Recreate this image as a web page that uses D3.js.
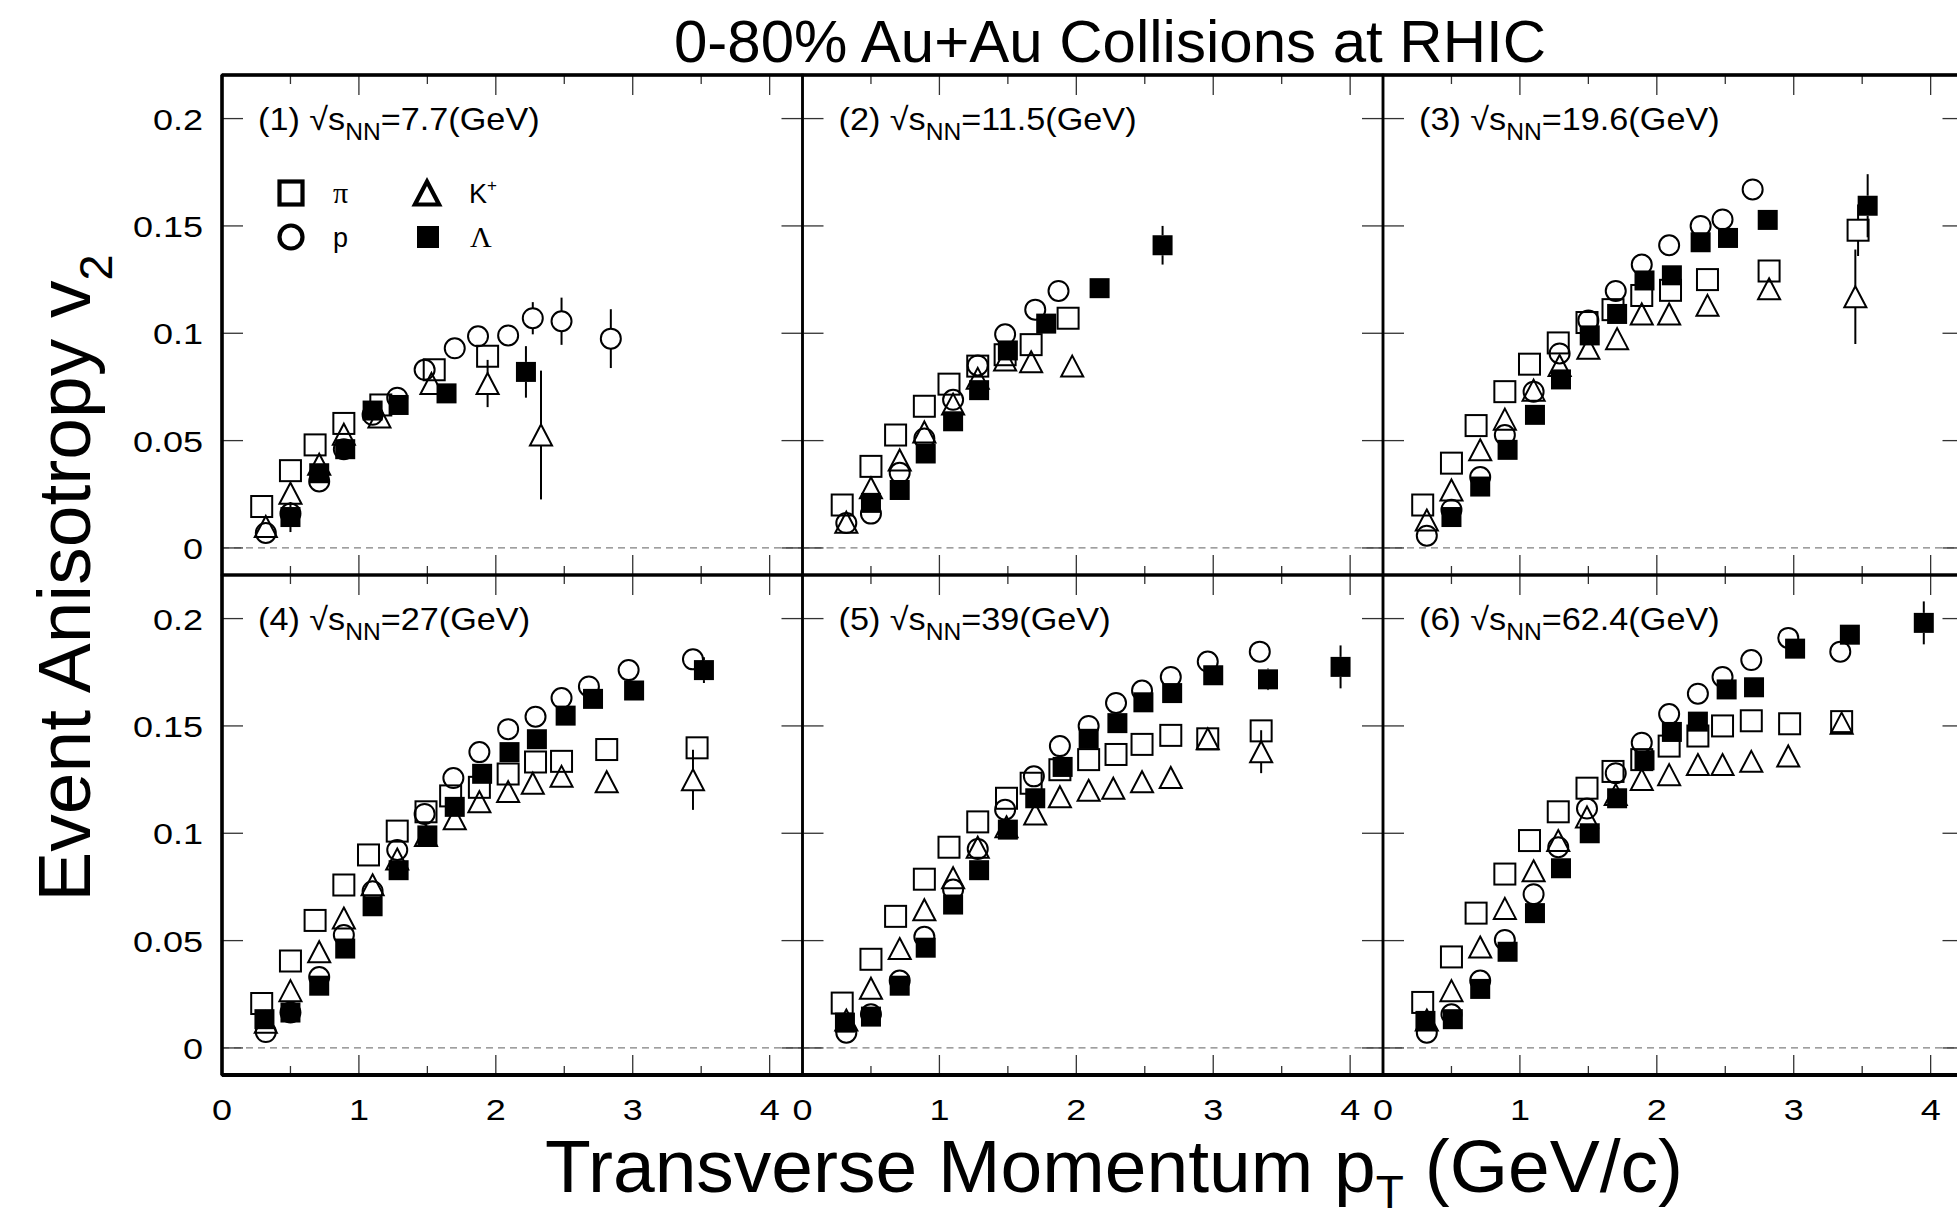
<!DOCTYPE html>
<html><head><meta charset="utf-8">
<script src="https://cdn.jsdelivr.net/npm/d3@7"></script>
<style>body{margin:0;background:#fff;} svg{display:block;}</style>
</head><body>
<script>
// ---------- data ----------
const energies = ["7.7","11.5","19.6","27","39","62.4"];
const speciesNames = ["π","p","K","Λ"];
const xTickValues = [0,1,2,3,4];
const xAllTicks = [0.5,1,1.5,2,2.5,3,3.5,4];
const yTickValues = [0,0.05,0.1,0.15,0.2];
const yTickLabels = ["0","0.05","0.1","0.15","0.2"];
const xTickLabels = ["0","1","2","3","4"];
const titleText = "0-80% Au+Au Collisions at RHIC";

// each point: [pT, v2, error]; one list per energy (panel)
const pion = [
 [[0.29,0.0193,0],[0.50,0.036,0],[0.68,0.048,0],[0.89,0.058,0],[1.16,0.0666,0],[1.55,0.083,0],[1.94,0.0893,0.005]],
 [[0.29,0.020,0],[0.50,0.038,0],[0.68,0.0526,0],[0.89,0.066,0],[1.07,0.0763,0],[1.28,0.0847,0],[1.48,0.090,0],[1.67,0.0947,0],[1.94,0.107,0]],
 [[0.29,0.020,0],[0.50,0.0395,0],[0.68,0.057,0],[0.89,0.0728,0],[1.07,0.0856,0],[1.28,0.0955,0],[1.49,0.105,0],[1.68,0.111,0],[1.89,0.1176,0],[2.10,0.120,0],[2.37,0.125,0],[2.82,0.129,0],[3.47,0.148,0.012]],
 [[0.29,0.0207,0],[0.50,0.0405,0],[0.68,0.0594,0],[0.89,0.0759,0],[1.07,0.0899,0],[1.28,0.101,0],[1.49,0.110,0],[1.67,0.1174,0],[1.88,0.1214,0],[2.09,0.1276,0],[2.29,0.1332,0],[2.48,0.1335,0],[2.81,0.139,0],[3.47,0.1398,0.004]],
 [[0.29,0.0209,0],[0.50,0.0413,0],[0.68,0.0613,0],[0.89,0.0786,0],[1.07,0.0935,0],[1.28,0.1053,0],[1.49,0.1163,0],[1.67,0.1233,0],[1.88,0.1296,0],[2.09,0.1343,0],[2.29,0.1367,0],[2.48,0.1414,0],[2.69,0.1456,0],[2.96,0.144,0],[3.35,0.1477,0.004]],
 [[0.29,0.0212,0],[0.50,0.0424,0],[0.68,0.0628,0],[0.89,0.081,0],[1.07,0.0966,0],[1.28,0.110,0],[1.49,0.121,0],[1.68,0.1288,0],[1.89,0.1343,0],[2.09,0.1406,0],[2.30,0.1453,0],[2.48,0.150,0],[2.69,0.1524,0],[2.97,0.151,0],[3.35,0.152,0]]
];
const proton = [
 [[0.32,0.007,0],[0.50,0.016,0],[0.71,0.031,0],[0.89,0.046,0],[1.10,0.062,0],[1.28,0.070,0],[1.48,0.083,0],[1.70,0.093,0],[1.87,0.0986,0],[2.09,0.099,0],[2.27,0.107,0.0075],[2.48,0.1056,0.011],[2.84,0.0975,0.0137]],
 [[0.32,0.0116,0],[0.50,0.016,0],[0.71,0.035,0],[0.89,0.051,0],[1.10,0.069,0],[1.28,0.085,0],[1.48,0.0995,0],[1.70,0.111,0],[1.87,0.1197,0]],
 [[0.32,0.0057,0],[0.50,0.0178,0],[0.71,0.033,0],[0.89,0.0526,0],[1.10,0.0728,0],[1.29,0.0906,0],[1.50,0.106,0],[1.70,0.1197,0],[1.89,0.132,0],[2.09,0.141,0],[2.32,0.150,0],[2.48,0.153,0],[2.70,0.167,0]],
 [[0.32,0.0074,0],[0.50,0.0165,0],[0.71,0.033,0],[0.89,0.0526,0],[1.10,0.073,0],[1.28,0.0922,0],[1.48,0.109,0],[1.69,0.1257,0],[1.88,0.1378,0],[2.09,0.1485,0],[2.29,0.1543,0],[2.48,0.163,0],[2.68,0.1684,0],[2.97,0.176,0],[3.44,0.181,0]],
 [[0.32,0.0071,0],[0.50,0.0157,0],[0.71,0.0314,0],[0.89,0.0518,0],[1.10,0.0738,0],[1.28,0.0927,0],[1.48,0.111,0],[1.69,0.1265,0],[1.88,0.1406,0],[2.09,0.150,0],[2.29,0.1607,0],[2.48,0.1665,0],[2.69,0.1728,0],[2.96,0.180,0],[3.34,0.1846,0]],
 [[0.32,0.0071,0],[0.50,0.0157,0],[0.71,0.0314,0],[0.89,0.0503,0],[1.10,0.0716,0],[1.28,0.0935,0],[1.49,0.1115,0],[1.70,0.128,0],[1.89,0.1422,0],[2.09,0.1555,0],[2.30,0.165,0],[2.48,0.1728,0],[2.69,0.1807,0],[2.96,0.191,0],[3.34,0.1846,0]]
];
const kaon = [
 [[0.32,0.010,0],[0.50,0.0255,0],[0.71,0.039,0],[0.89,0.053,0],[1.15,0.061,0],[1.53,0.0766,0],[1.94,0.0766,0.011],[2.33,0.0526,0.030]],
 [[0.32,0.012,0],[0.50,0.028,0],[0.71,0.041,0],[0.89,0.054,0],[1.10,0.067,0],[1.28,0.079,0],[1.48,0.0875,0],[1.67,0.0867,0],[1.97,0.0847,0]],
 [[0.32,0.013,0],[0.50,0.027,0],[0.71,0.0457,0],[0.89,0.060,0],[1.10,0.0735,0],[1.29,0.085,0],[1.50,0.093,0],[1.71,0.0975,0],[1.89,0.109,0],[2.09,0.109,0],[2.37,0.113,0],[2.82,0.1207,0.004],[3.45,0.117,0.022]],
 [[0.32,0.012,0],[0.50,0.0267,0],[0.71,0.0448,0],[0.89,0.0605,0],[1.10,0.076,0],[1.28,0.088,0],[1.49,0.099,0],[1.70,0.1068,0],[1.88,0.1147,0],[2.09,0.1194,0],[2.27,0.1233,0],[2.48,0.1265,0],[2.81,0.124,0],[3.44,0.1249,0.014]],
 [[0.32,0.013,0],[0.50,0.0278,0],[0.71,0.0463,0],[0.89,0.0644,0],[1.10,0.0793,0],[1.28,0.0935,0],[1.49,0.103,0],[1.70,0.109,0],[1.88,0.117,0],[2.09,0.120,0],[2.27,0.121,0],[2.48,0.124,0],[2.69,0.126,0],[2.96,0.144,0],[3.35,0.138,0.010]],
 [[0.32,0.013,0],[0.50,0.0267,0],[0.71,0.047,0],[0.89,0.065,0],[1.10,0.0825,0],[1.28,0.0966,0],[1.49,0.1076,0],[1.70,0.118,0],[1.89,0.125,0],[2.09,0.1273,0],[2.30,0.132,0],[2.48,0.132,0],[2.69,0.1335,0],[2.96,0.136,0],[3.35,0.1513,0]]
];
const lambda = [
 [[0.50,0.0144,0.007],[0.71,0.0348,0],[0.90,0.046,0],[1.10,0.064,0],[1.29,0.0666,0],[1.64,0.072,0],[2.22,0.082,0.012]],
 [[0.50,0.021,0],[0.71,0.027,0],[0.90,0.044,0],[1.10,0.059,0],[1.29,0.0735,0],[1.50,0.092,0],[1.78,0.1045,0],[2.17,0.121,0],[2.63,0.141,0.009]],
 [[0.50,0.0144,0],[0.71,0.0286,0],[0.91,0.0457,0],[1.11,0.062,0],[1.30,0.0785,0],[1.51,0.099,0],[1.71,0.109,0],[1.91,0.1246,0],[2.11,0.127,0],[2.32,0.1424,0],[2.52,0.1444,0],[2.81,0.1528,0.003],[3.54,0.1594,0.0147]],
 [[0.31,0.0134,0.004],[0.50,0.0165,0],[0.71,0.029,0],[0.90,0.0463,0],[1.10,0.066,0],[1.29,0.0828,0],[1.50,0.099,0],[1.70,0.1123,0],[1.90,0.1277,0],[2.10,0.1378,0],[2.30,0.1438,0],[2.51,0.1548,0],[2.71,0.1626,0],[3.01,0.1665,0],[3.52,0.176,0.006]],
 [[0.31,0.0118,0],[0.50,0.0146,0],[0.71,0.029,0],[0.90,0.0467,0],[1.10,0.0668,0],[1.29,0.0828,0],[1.50,0.1017,0],[1.70,0.1163,0],[1.90,0.1309,0],[2.09,0.144,0],[2.30,0.1513,0],[2.49,0.161,0],[2.70,0.1653,0],[3.00,0.1736,0],[3.40,0.1717,0.005],[3.93,0.1775,0.010]],
 [[0.31,0.0126,0.003],[0.51,0.0134,0],[0.71,0.0275,0],[0.91,0.0448,0],[1.11,0.0628,0],[1.30,0.0837,0],[1.51,0.100,0],[1.71,0.1163,0],[1.91,0.134,0],[2.11,0.1472,0],[2.30,0.152,0],[2.51,0.167,0],[2.71,0.168,0],[3.01,0.186,0],[3.41,0.1925,0.004],[3.95,0.198,0.010]]
];

// ---------- layout ----------
const W = 1957, H = 1220;
const colX = [222, 802.5, 1383];
const rowY = [75, 575];
const panelW = 580.5, panelH = 500;
const FONT = "'Liberation Sans', Arial, Helvetica, sans-serif";

const x = d3.scaleLinear().domain([0, 4.24]).range([0, panelW]);
const y = d3.scaleLinear().domain([-0.0126, 0.2203]).range([panelH, 0]);

const svg = d3.select("body").append("svg")
  .attr("width", W).attr("height", H)
  .style("background", "#fff");

// title
svg.append("text").attr("x", 1110).attr("y", 62)
  .attr("text-anchor", "middle").attr("font-family", FONT)
  .attr("font-size", 60).text(titleText);

// markers
const MS = 21;
const SW = 2;
function drawMarker(g, kind, cx, cy, s, sw) {
  const h = s / 2;
  if (kind === "square") {
    g.append("rect").attr("x", cx - h).attr("y", cy - h).attr("width", s).attr("height", s)
      .attr("fill", "none").attr("stroke", "#000").attr("stroke-width", sw);
  } else if (kind === "fsquare") {
    g.append("rect").attr("x", cx - h).attr("y", cy - h).attr("width", s).attr("height", s)
      .attr("fill", "#000");
  } else if (kind === "circle") {
    g.append("circle").attr("cx", cx).attr("cy", cy).attr("r", h)
      .attr("fill", "none").attr("stroke", "#000").attr("stroke-width", sw);
  } else if (kind === "triangle") {
    const w = s * 1.05;
    g.append("path")
      .attr("d", `M${cx},${cy - h}L${cx + w / 2},${cy + h}L${cx - w / 2},${cy + h}Z`)
      .attr("fill", "none").attr("stroke", "#000").attr("stroke-width", sw)
      .attr("stroke-linejoin", "miter");
  }
}

const seriesDefs = [
  {data: pion, kind: "square", size: MS},
  {data: kaon, kind: "triangle", size: MS},
  {data: proton, kind: "circle", size: 20},
  {data: lambda, kind: "fsquare", size: 20}
];

energies.forEach((en, i) => {
  const col = i % 3, row = Math.floor(i / 3);
  const g = svg.append("g").attr("transform", `translate(${colX[col]},${rowY[row]})`);

  // zero dashed line
  g.append("line").attr("x1", 0).attr("x2", panelW)
    .attr("y1", y(0)).attr("y2", y(0))
    .attr("stroke", "#808080").attr("stroke-width", 1.3)
    .attr("stroke-dasharray", "7,5");

  // x ticks top & bottom
  xAllTicks.forEach(t => {
    const len = Number.isInteger(t) ? 20 : 9;
    g.append("line").attr("x1", x(t)).attr("x2", x(t)).attr("y1", panelH).attr("y2", panelH - len)
      .attr("stroke", "#333").attr("stroke-width", 1.3);
    g.append("line").attr("x1", x(t)).attr("x2", x(t)).attr("y1", 0).attr("y2", len)
      .attr("stroke", "#333").attr("stroke-width", 1.3);
  });
  // y ticks left & right
  yTickValues.forEach(t => {
    g.append("line").attr("x1", 0).attr("x2", 21).attr("y1", y(t)).attr("y2", y(t))
      .attr("stroke", "#333").attr("stroke-width", 1.3);
    g.append("line").attr("x1", panelW).attr("x2", panelW - 21).attr("y1", y(t)).attr("y2", y(t))
      .attr("stroke", "#333").attr("stroke-width", 1.3);
  });

  // data
  seriesDefs.forEach(sd => {
    const pts = sd.data[i];
    const h = sd.size / 2;
    pts.forEach(p => {
      const cx = x(p[0]), cy = y(p[1]);
      if (p[2] > 0) {
        const yt = y(p[1] + p[2]), yb = y(p[1] - p[2]);
        if (yt < cy - h) g.append("line").attr("x1", cx).attr("x2", cx).attr("y1", yt).attr("y2", cy - h)
          .attr("stroke", "#000").attr("stroke-width", 2);
        if (yb > cy + h) g.append("line").attr("x1", cx).attr("x2", cx).attr("y1", cy + h).attr("y2", yb)
          .attr("stroke", "#000").attr("stroke-width", 2);
      }
      drawMarker(g, sd.kind, cx, cy, sd.size, SW);
    });
  });

  // panel label
  const lab = g.append("text").attr("font-family", FONT).attr("font-size", 32)
    .attr("transform", `translate(36,55) scale(1.07,1)`);
  lab.append("tspan").text(`(${i + 1}) √s`);
  lab.append("tspan").attr("font-size", 23).attr("dy", 10).text("NN");
  lab.append("tspan").attr("dy", -10).text(`=${en}(GeV)`);

  // frame
  g.append("rect").attr("x", 0).attr("y", 0).attr("width", panelW).attr("height", panelH)
    .attr("fill", "none").attr("stroke", "#000").attr("stroke-width", 2.5);
});

// outer thick frame lines
svg.append("line").attr("x1", colX[0]).attr("x2", W + 10).attr("y1", rowY[0]).attr("y2", rowY[0])
  .attr("stroke", "#000").attr("stroke-width", 3.5);
svg.append("line").attr("x1", colX[0]).attr("x2", W + 10).attr("y1", rowY[1] + panelH).attr("y2", rowY[1] + panelH)
  .attr("stroke", "#000").attr("stroke-width", 4);
svg.append("line").attr("x1", colX[0]).attr("x2", colX[0]).attr("y1", rowY[0]).attr("y2", rowY[1] + panelH)
  .attr("stroke", "#000").attr("stroke-width", 3.5);
svg.append("line").attr("x1", colX[0]).attr("x2", W + 10).attr("y1", rowY[1]).attr("y2", rowY[1])
  .attr("stroke", "#000").attr("stroke-width", 3);

// y tick labels
rowY.forEach(ry => {
  yTickValues.forEach((t, k) => {
    svg.append("text").attr("font-family", FONT).attr("font-size", 30)
      .attr("text-anchor", "end")
      .attr("transform", `translate(203,${ry + y(t) + 11}) scale(1.2,1)`)
      .text(yTickLabels[k]);
  });
});
// x tick labels
colX.forEach(cx0 => {
  xTickValues.forEach((t, k) => {
    svg.append("text").attr("font-family", FONT).attr("font-size", 30)
      .attr("text-anchor", "middle")
      .attr("transform", `translate(${cx0 + x(t)},1120) scale(1.2,1)`)
      .text(xTickLabels[k]);
  });
});

// axis titles
const yl = svg.append("text").attr("font-family", FONT).attr("font-size", 75)
  .attr("text-anchor", "middle").attr("transform", "translate(90,578) rotate(-90)");
yl.append("tspan").text("Event Anisotropy v");
yl.append("tspan").attr("font-size", 47).attr("dy", 22).text("2");

const xl = svg.append("text").attr("font-family", FONT).attr("font-size", 75)
  .attr("text-anchor", "middle").attr("x", 1114).attr("y", 1192);
xl.append("tspan").text("Transverse Momentum p");
xl.append("tspan").attr("font-size", 46).attr("dy", 16).text("T");
xl.append("tspan").attr("dy", -16).text(" (GeV/c)");

// legend (panel 1)
const lg = svg.append("g").attr("transform", `translate(${colX[0]},${rowY[0]})`);
const legendItems = [
  {kind: "square", name: speciesNames[0], mx: 69, my: 118, serif: true},
  {kind: "triangle", name: speciesNames[2], mx: 205, my: 118, serif: false, sup: "+"},
  {kind: "circle", name: speciesNames[1], mx: 69, my: 162, serif: false},
  {kind: "fsquare", name: speciesNames[3], mx: 206, my: 162, serif: true}
];
legendItems.forEach(it => {
  const s = it.kind === "fsquare" ? 22 : 23;
  drawMarker(lg, it.kind, it.mx, it.my, s, 4.2);
  const t = lg.append("text")
    .attr("font-family", it.serif ? "'Liberation Serif', 'Times New Roman', serif" : FONT)
    .attr("font-size", it.serif ? 30 : 27).attr("x", it.mx + 42).attr("y", it.my + 10);
  t.append("tspan").text(it.name);
  if (it.sup) t.append("tspan").attr("font-size", 17).attr("dy", -12).text(it.sup);
});
</script>
</body></html>
